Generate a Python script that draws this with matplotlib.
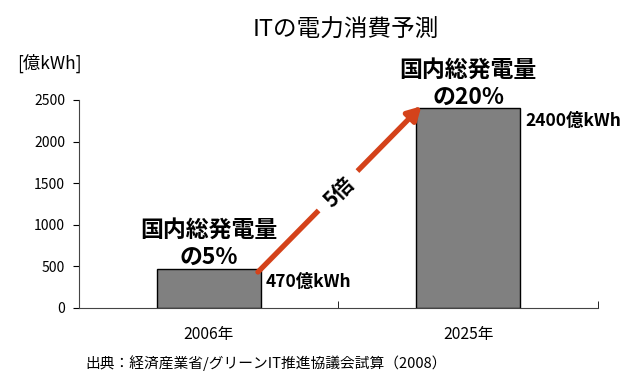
import matplotlib
matplotlib.use('Agg')
import matplotlib.pyplot as plt

plt.rcParams['font.family'] = ['Noto Sans CJK JP', 'DejaVu Sans']

years = ['2006年', '2025年']
usage = [470, 2400]
value_labels = ['470億kWh', '2400億kWh']
share_top = ['国内総発電量', '国内総発電量']
share_bottom = ['の5%', 'の20%']
yticks = [0, 500, 1000, 1500, 2000, 2500]

bar_w = 0.4
arrow_color = '#d4421a'

fig = plt.figure(figsize=(6.4, 3.8), dpi=100)
ax = fig.add_axes([0.1234, 0.1895, 0.8106, 0.5475])

x = list(range(len(years)))
ax.bar(x, usage, width=bar_w, color='#808080', edgecolor='black', linewidth=1)

ax.set_xlim(-0.5, len(years) - 0.5)
ax.set_ylim(0, 2500)
ax.set_yticks(yticks)
ax.set_xticks(x)
ax.set_xticklabels(years, fontsize=11.3)
ax.set_xticks([i - 0.5 for i in range(len(years) + 1)], minor=True)
ax.tick_params(axis='x', which='major', length=0, pad=13)
ax.tick_params(axis='x', which='minor', direction='in', length=5)
ax.tick_params(axis='y', direction='out', length=4, labelsize=10, pad=6)
for s in ['top', 'right']:
    ax.spines[s].set_visible(False)
for s in ['left', 'bottom']:
    ax.spines[s].set_color('#444444')

# value labels right of the bars, share labels above
for i, v in enumerate(usage):
    ax.annotate(value_labels[i], xy=(i + bar_w / 2, v), xytext=(4, -9.5),
                textcoords='offset points', ha='left', va='center',
                fontsize=12.5, fontweight='bold')
    ax.annotate(share_bottom[i], xy=(i, v), xytext=(0, 8),
                textcoords='offset points', ha='center', va='center',
                fontsize=16.5, fontweight='bold')
    ax.annotate(share_top[i], xy=(i, v), xytext=(0, 27.5),
                textcoords='offset points', ha='center', va='center',
                fontsize=16.5, fontweight='bold')

# growth arrow
x0, y0 = bar_w / 2 - 0.01, usage[0] * 0.92
x1, y1 = 1 - bar_w / 2 + 0.02, usage[1] + 25
ax.annotate('', xy=(x1, y1), xytext=(x0, y0),
            arrowprops=dict(arrowstyle='-|>,head_length=0.8,head_width=0.45',
                            lw=3.8, color=arrow_color, shrinkA=0, shrinkB=0))
ratio = round(usage[1] / usage[0])
ax.text((x0 + x1) / 2, (y0 + y1) / 2 - 40, f'{ratio}倍', ha='center', va='center',
        rotation=45, fontsize=15, fontweight='bold',
        bbox=dict(facecolor='white', edgecolor='none', pad=8))

fig.text(0.541, 0.921, 'ITの電力消費予測', ha='center', va='center', fontsize=17)
fig.text(0.026, 0.834, '[億kWh]', ha='left', va='center', fontsize=12.5)
fig.text(0.133, 0.045, '出典：経済産業省/グリーンIT推進協議会試算（2008）',
         ha='left', va='center', fontsize=10.6)

fig.savefig('out.png', dpi=100)
